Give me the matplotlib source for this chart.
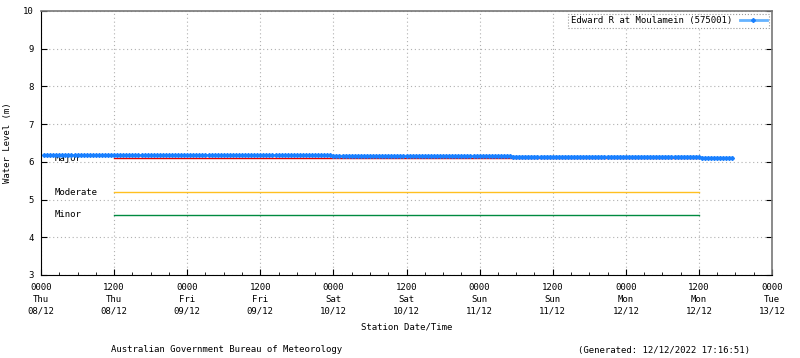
import matplotlib
matplotlib.use("Agg")
import matplotlib.pyplot as plt
from matplotlib.ticker import MultipleLocator

plt.rcParams['font.family'] = ['DejaVu Sans Mono']
plt.rcParams['font.size'] = 6.5

# readings every half hour, hours since 0000 Thu 08/12
hours = [h / 2 for h in range(1, 228)]
levels = ([6.17] * 95 +
          [6.15] * 59 +
          [6.13] * 62 +
          [6.10] * 11)

tick_hours = [0, 12, 24, 36, 48, 60, 72, 84, 96, 108, 120]
tick_times = ['0000', '1200'] * 5 + ['0000']
tick_days = ['Thu', 'Thu', 'Fri', 'Fri', 'Sat', 'Sat', 'Sun', 'Sun', 'Mon', 'Mon', 'Tue']
tick_dates = ['08/12', '08/12', '09/12', '09/12', '10/12', '10/12',
              '11/12', '11/12', '12/12', '12/12', '13/12']

flood_names = ['Major', 'Moderate', 'Minor']
flood_levels = [6.1, 5.2, 4.6]
flood_colors = ['#e00000', '#ffc020', '#008a40']
flood_span = [12, 108]

fig = plt.figure(figsize=(8, 3.58), dpi=100)
ax = fig.add_axes([41 / 800, 1 - 275 / 358, 731 / 800, 264 / 358])

for name, lev, col in zip(flood_names, flood_levels, flood_colors):
    ax.plot(flood_span, [lev, lev], color=col, lw=1, zorder=2)
    ax.text(2.2, lev, name, ha='left', va='center', zorder=2.5)

ax.plot(hours, levels, color='#66b3ff', lw=2, marker='D', ms=2,
        mfc='#1a80ff', mec='#1a80ff', zorder=3,
        label='Edward R at Moulamein (575001)')

ax.set_xlim(0, 120)
ax.set_ylim(3, 10)
ax.set_xticks(tick_hours)
ax.set_xticklabels([f'{t}\n{d}\n{s}' for t, d, s in zip(tick_times, tick_days, tick_dates)],
                   linespacing=1.35)
ax.xaxis.set_minor_locator(MultipleLocator(3))
ax.set_yticks(range(3, 11))
ax.tick_params(axis='both', which='both', direction='in', top=False, right=True)
ax.tick_params(axis='x', which='major', length=4, pad=6)
ax.tick_params(axis='x', which='minor', length=2)
ax.tick_params(axis='y', length=4, pad=5)
ax.grid(True, which='major', color='#b0b0b0', linestyle=(0, (1, 2.5)), lw=0.8)

for side in ['left', 'bottom']:
    ax.spines[side].set_color('black')
for side in ['top', 'right']:
    ax.spines[side].set_color('#777777')
    ax.spines[side].set_linewidth(1.2)

ax.set_ylabel('Water Level (m)', labelpad=8)
ax.set_xlabel('Station Date/Time', labelpad=5)

leg = ax.legend(loc='upper right', markerfirst=False, handlelength=3,
                borderpad=0.3, borderaxespad=0.3, fancybox=False, framealpha=1)
leg.get_frame().set_edgecolor('#999999')
leg.get_frame().set_linestyle(':')
leg.get_frame().set_linewidth(0.8)

fig.text(227 / 800, 1 - 350 / 358, 'Australian Government Bureau of Meteorology',
         ha='center', va='center')
fig.text(664 / 800, 1 - 350 / 358, '(Generated: 12/12/2022 17:16:51)',
         ha='center', va='center')

fig.savefig('out.png', dpi=100)
